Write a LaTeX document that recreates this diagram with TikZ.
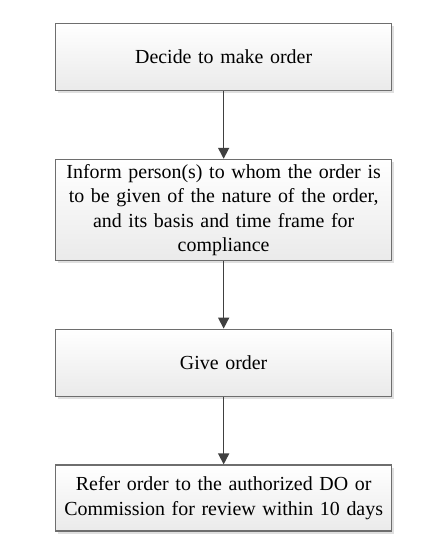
\documentclass[tikz,border=0pt]{standalone}
\usepackage{fontspec}
\setmainfont{Liberation Serif}
\usepackage{xcolor}
\usepackage{tikz}
\usetikzlibrary{arrows.meta,positioning,shadows}

\definecolor{edgegray}{HTML}{6E6E6E}
\definecolor{arrowgray}{HTML}{404040}
\definecolor{fillbottom}{HTML}{EAEAEA}

\begin{document}
\begin{tikzpicture}[
  x=1bp, y=1bp,
  node distance=67.5bp,
  box/.style={draw=edgegray, line width=1.3bp, top color=white, bottom color=fillbottom,
    drop shadow={shadow xshift=2.5bp, shadow yshift=-2.5bp, opacity=0.25, fill=gray},
    align=center, minimum width=336bp, text width=330bp, inner sep=2bp,
    font=\fontsize{20}{24.5}\selectfont},
  arr/.style={-{Triangle[length=11bp, width=11bp]}, line width=1.6bp, draw=arrowgray, fill=arrowgray}
]
  \useasboundingbox (0,0) rectangle (446,-558);

  \node[box, minimum height=67bp, anchor=north west] (decide) at (55,-23) {Decide to make order};
  \node[box, minimum height=101bp, below=of decide] (inform) {Inform person(s) to whom the order is\\to be given of the nature of the order,\\and its basis and time frame for\\compliance};
  \node[box, minimum height=67bp, below=of inform] (give) {Give order};
  \node[box, minimum height=66bp, below=of give] (refer) {Refer order to the authorized DO or\\Commission for review within 10 days};

  \draw[arr] (decide) -- (inform);
  \draw[arr] (inform) -- (give);
  \draw[arr] (give) -- (refer);
\end{tikzpicture}
\end{document}
